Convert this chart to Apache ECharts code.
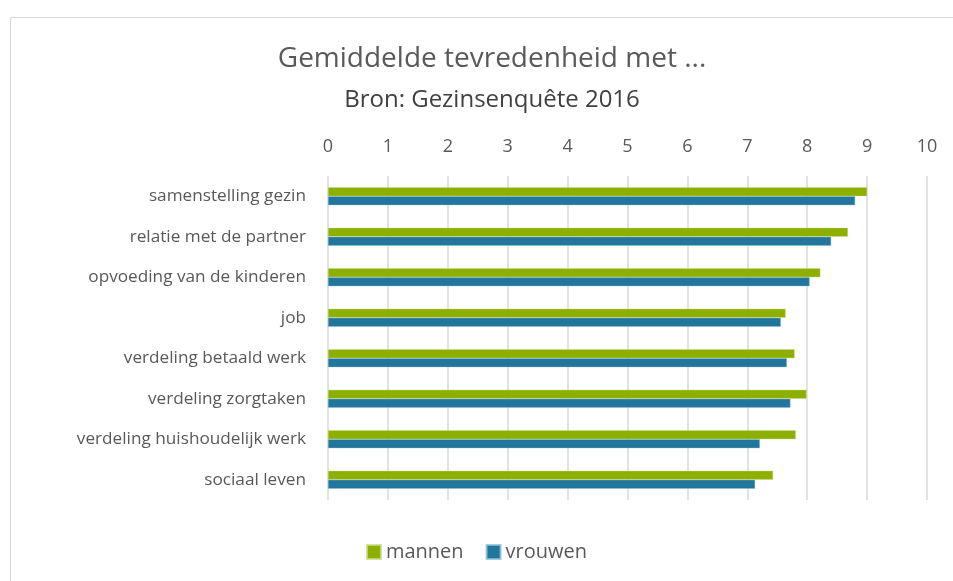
<!DOCTYPE html>
<html>
<head>
<meta charset="utf-8">
<script src="https://cdn.jsdelivr.net/npm/echarts@6/dist/echarts.min.js"></script>
<style>
  html, body { margin: 0; padding: 0; background: #fff; }
  #chart { width: 953px; height: 581px; }
</style>
</head>
<body>
<div id="chart"></div>
<script>
// Gemiddelde tevredenheid - horizontal bar chart
const categories = [
    "samenstelling gezin",
    "relatie met de partner",
    "opvoeding van de kinderen",
    "job",
    "verdeling betaald werk",
    "verdeling zorgtaken",
    "verdeling huishoudelijk werk",
    "sociaal leven",
];
const mannen = [9.0, 8.68, 8.22, 7.64, 7.79, 7.99, 7.81, 7.43];
const vrouwen = [8.8, 8.4, 8.04, 7.56, 7.66, 7.72, 7.21, 7.13];
const seriesNames = ["mannen", "vrouwen"];

const textColor = "#595959";
const font = "'Open Sans', 'Noto Sans', sans-serif";

const chart = echarts.init(document.getElementById("chart"));

const option = {
    backgroundColor: "#fff",
    animation: false,
    graphic: [
        {
            type: "rect",
            left: 8,
            top: 15,
            shape: { width: 950, height: 580 },
            style: { fill: "none", stroke: "#d9d9d9", lineWidth: 1 },
            silent: true,
        },
    ],
    title: {
        text: "Gemiddelde tevredenheid met ...",
        subtext: "Bron: Gezinsenquête 2016",
        left: 487,
        top: 40,
        textAlign: "center",
        itemGap: 15,
        textStyle: { color: textColor, fontSize: 28, fontWeight: "normal", fontFamily: font },
        subtextStyle: { color: "#404040", fontSize: 24, fontFamily: font },
    },
    legend: {
        bottom: 14,
        left: "center",
        itemWidth: 14,
        itemHeight: 14,
        itemGap: 22,
        icon: "rect",
        textStyle: { color: textColor, fontSize: 20, fontFamily: font },
        data: seriesNames,
    },
    grid: {
        left: 328,
        right: 26,
        top: 176,
        bottom: 81,
        containLabel: false,
    },
    xAxis: {
        type: "value",
        position: "top",
        min: 0,
        max: 10,
        interval: 1,
        axisLine: { show: false },
        axisTick: { show: false },
        axisLabel: { color: textColor, fontSize: 18, fontFamily: font, margin: 20 },
        splitLine: { lineStyle: { color: "#d9d9d9", width: 1.5 } },
    },
    yAxis: {
        type: "category",
        inverse: true,
        data: categories,
        axisLine: { show: false },
        axisTick: { show: false },
        axisLabel: { color: textColor, fontSize: 17.2, fontFamily: font, margin: 22 },
    },
    series: [
        {
            name: seriesNames[0],
            type: "bar",
            data: mannen,
            barWidth: 9,
            barGap: "0%",
            itemStyle: { color: "#8db000", borderColor: "rgba(200,220,140,0.8)", borderWidth: 0.5 },
        },
        {
            name: seriesNames[1],
            type: "bar",
            data: vrouwen,
            barWidth: 9,
            itemStyle: { color: "#22769c", borderColor: "rgba(140,190,215,0.8)", borderWidth: 0.5 },
        },
    ],
};

chart.setOption(option);
</script>
</body>
</html>
